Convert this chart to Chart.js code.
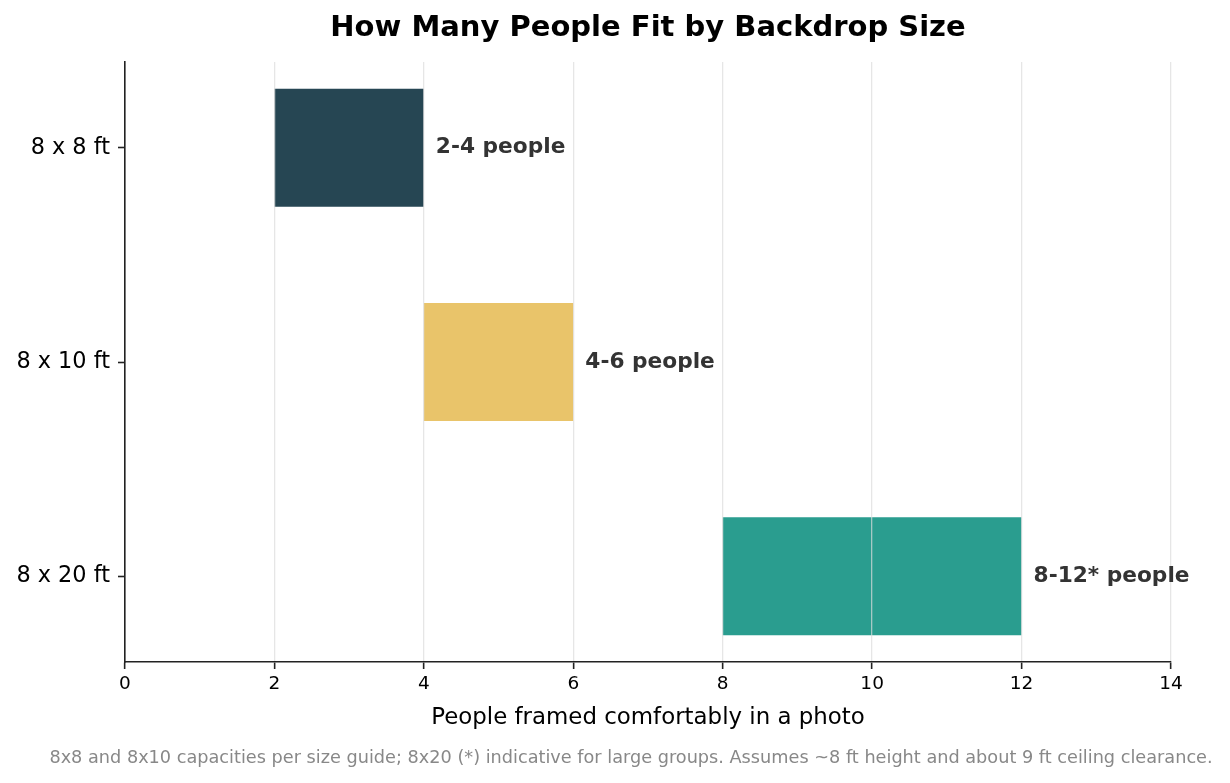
<!DOCTYPE html>
<html>
<head>
<meta charset="utf-8">
<script src="https://cdn.jsdelivr.net/npm/chart.js@4"></script>
<style>
  html, body { margin: 0; padding: 0; background: #fff; }
  #wrap { width: 1230px; height: 783px; }
</style>
</head>
<body>
<div id="wrap"><canvas id="chart"></canvas></div>
<script>
// --- data ---
const sizes = ['8 x 8 ft', '8 x 10 ft', '8 x 20 ft'];
const lowPeople = [2, 4, 8];
const highPeople = [4, 6, 12];
const rangeLabels = ['2-4 people', '4-6 people', '8-12* people'];
const barColors = ['#264653', '#e9c46a', '#2a9d8f'];
const xTicks = [0, 2, 4, 6, 8, 10, 12, 14];
const footnote = '8x8 and 8x10 capacities per size guide; 8x20 (*) indicative for large groups. Assumes ~8 ft height and about 9 ft ceiling clearance.';

const FONT = "'DejaVu Sans', sans-serif";

// labels to the right of each bar (drawn last so they sit over the grid)
const endLabels = {
    id: 'endLabels',
    afterDraw(chart) {
        const c = chart.ctx;
        const meta = chart.getDatasetMeta(0);
        c.save();
        c.font = 'bold 21.7px ' + FONT;
        c.fillStyle = '#333333';
        c.textBaseline = 'middle';
        meta.data.forEach((bar, i) => {
            c.fillText(rangeLabels[i], bar.x + 12, bar.y);
        });
        c.restore();
    }
};

// footnote under the axis title
const footNote = {
    id: 'footNote',
    afterDraw(chart) {
        const c = chart.ctx;
        c.save();
        c.font = '17.7px ' + FONT;
        c.fillStyle = '#888888';
        c.textAlign = 'center';
        c.textBaseline = 'middle';
        c.fillText(footnote, 631, chart.height - 25);
        c.restore();
    }
};

new Chart(document.getElementById('chart'), {
    type: 'bar',
    data: {
        datasets: [{
            data: sizes.map((s, i) => ({ x: [lowPeople[i], highPeople[i]], y: i })),
            backgroundColor: barColors,
            borderWidth: 0,
            barPercentage: 1,
            categoryPercentage: 0.55
        }]
    },
    options: {
        indexAxis: 'y',
        responsive: true,
        maintainAspectRatio: false,
        animation: false,
        devicePixelRatio: 1,
        layout: { padding: { left: 0, right: 59, top: 0, bottom: 40.6 } },
        plugins: {
            legend: { display: false },
            tooltip: { enabled: false },
            title: {
                display: true,
                fullSize: false,
                text: 'How Many People Fit by Backdrop Size',
                color: '#000',
                font: { family: FONT, size: 29, weight: 'bold' },
                padding: { top: 10.6, bottom: 16.6 }
            }
        },
        scales: {
            x: {
                type: 'linear',
                min: 0,
                max: 14,
                afterBuildTicks: (scale) => { scale.ticks = xTicks.map(v => ({ value: v })); },
                afterFit: (scale) => { scale.height = 80.4; },
                ticks: { color: '#000', font: { family: FONT, size: 18.5 }, padding: 4 },
                grid: {
                    z: 1, color: 'rgba(220,220,220,0.7)', lineWidth: 1.3,
                    tickColor: '#222', tickWidth: 1.6, tickLength: 7
                },
                border: { z: 2, color: '#222', width: 1.6 },
                title: {
                    display: true,
                    text: 'People framed comfortably in a photo',
                    color: '#000',
                    font: { family: FONT, size: 22.9 },
                    padding: { top: 4, bottom: 11 }
                }
            },
            y: {
                type: 'linear',
                reverse: true,
                offset: false,
                min: -0.4,
                max: 2.4,
                afterBuildTicks: (scale) => { scale.ticks = sizes.map((s, i) => ({ value: i })); },
                afterFit: (scale) => { scale.width = 125; },
                ticks: {
                    color: '#000',
                    font: { family: FONT, size: 22.4 },
                    padding: 8,
                    callback: (v) => sizes[v]
                },
                grid: {
                    z: 1, offset: false, drawOnChartArea: false,
                    tickColor: '#222', tickWidth: 1.6, tickLength: 7
                },
                border: { z: 2, color: '#222', width: 1.6 }
            }
        }
    },
    plugins: [endLabels, footNote]
});
</script>
</body>
</html>
